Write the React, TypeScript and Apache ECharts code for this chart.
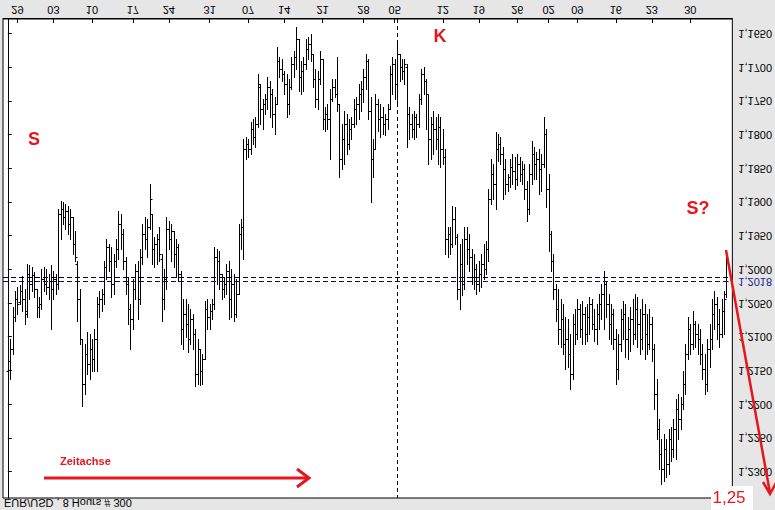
import React, { useEffect, useRef } from "react";
import * as echarts from "echarts";

// EUR/USD 8-hour bars (open / high / low / close)
const opens = [
  1.2152, 1.2137, 1.2119, 1.2071, 1.2045, 1.2049, 1.2033, 1.2045, 1.2063, 1.2008,
  1.2022, 1.2009, 1.2030, 1.2057, 1.2052, 1.2015, 1.2022, 1.2027, 1.2018, 1.2030,
  1.2015, 1.2022, 1.1919, 1.1911, 1.1923, 1.1914, 1.1933, 1.1923, 1.1963, 1.1993,
  1.2045, 1.2104, 1.2171, 1.2126, 1.2141, 1.2119, 1.2134, 1.2104, 1.2052, 1.2045,
  1.2037, 1.1997, 1.1968, 1.1988, 1.2022, 1.1988, 1.1971, 1.1933, 1.1948, 1.1988,
  1.2022, 1.2060, 1.2074, 1.2030, 1.2003, 1.2045, 1.1982, 1.1948, 1.1956, 1.1938,
  1.1919, 1.1971, 1.1963, 1.1956, 1.1985, 1.2045, 1.2015, 1.1941, 1.1956, 1.1944,
  1.1978, 1.1968, 1.2008, 1.2089, 1.2067, 1.2082, 1.2104, 1.2074, 1.2097, 1.2156,
  1.2119, 1.2152, 1.2134, 1.2060, 1.2071, 1.2063, 1.2052, 1.1982, 1.1988, 1.2008,
  1.2030, 1.2022, 1.2003, 1.2045, 1.2022, 1.2067, 1.2037, 1.1948, 1.1938, 1.1822,
  1.1815, 1.1822, 1.1792, 1.1804, 1.1785, 1.1730, 1.1763, 1.1755, 1.1748, 1.1730,
  1.1741, 1.1770, 1.1755, 1.1692, 1.1703, 1.1711, 1.1726, 1.1755, 1.1730, 1.1696,
  1.1686, 1.1659, 1.1715, 1.1706, 1.1696, 1.1674, 1.1666, 1.1681, 1.1718, 1.1748,
  1.1718, 1.1689, 1.1778, 1.1770, 1.1778, 1.1748, 1.1730, 1.1741, 1.1755, 1.1837,
  1.1807, 1.1785, 1.1815, 1.1792, 1.1785, 1.1763, 1.1755, 1.1741, 1.1733, 1.1715,
  1.1692, 1.1766, 1.1837, 1.1822, 1.1755, 1.1778, 1.1775, 1.1785, 1.1778, 1.1763,
  1.1711, 1.1696, 1.1726, 1.1681, 1.1700, 1.1706, 1.1700, 1.1770, 1.1785, 1.1792,
  1.1775, 1.1785, 1.1748, 1.1711, 1.1721, 1.1741, 1.1807, 1.1785, 1.1792, 1.1807,
  1.1790, 1.1822, 1.1834, 1.1956, 1.1948, 1.1963, 1.1926, 1.1953, 1.2030, 1.1993,
  1.2022, 1.1956, 1.1971, 1.1982, 1.2012, 1.2000, 1.2022, 1.2008, 1.1993, 1.2000,
  1.1971, 1.1896, 1.1859, 1.1874, 1.1822, 1.1815, 1.1830, 1.1852, 1.1874, 1.1864,
  1.1849, 1.1855, 1.1867, 1.1844, 1.1859, 1.1852, 1.1882, 1.1911, 1.1859, 1.1830,
  1.1844, 1.1837, 1.1852, 1.1844, 1.1800, 1.1882, 1.1948, 1.1988, 1.2030, 1.2060,
  1.2089, 1.2074, 1.2112, 1.2104, 1.2126, 1.2156, 1.2082, 1.2097, 1.2060, 1.2089,
  1.2067, 1.2097, 1.2071, 1.2052, 1.2082, 1.2089, 1.2067, 1.2052, 1.2037, 1.2022,
  1.2052, 1.2082, 1.2067, 1.2104, 1.2149, 1.2112, 1.2074, 1.2067, 1.2104, 1.2089,
  1.2074, 1.2097, 1.2060, 1.2082, 1.2104, 1.2067, 1.2097, 1.2112, 1.2082, 1.2119,
  1.2186, 1.2238, 1.2275, 1.2297, 1.2267, 1.2290, 1.2253, 1.2267, 1.2238, 1.2208,
  1.2223, 1.2201, 1.2171, 1.2126, 1.2089, 1.2112, 1.2082, 1.2097, 1.2104, 1.2126,
  1.2149, 1.2171, 1.2119, 1.2104, 1.2067, 1.2052, 1.2082, 1.2097, 1.2063, 1.2037,
];

const highs = [
  1.2166, 1.2163, 1.2126, 1.2077, 1.2067, 1.2052, 1.2063, 1.2082, 1.2071, 1.2045,
  1.2033, 1.2042, 1.2071, 1.2071, 1.2060, 1.2033, 1.2037, 1.2045, 1.2089, 1.2045,
  1.2037, 1.2030, 1.1956, 1.1933, 1.1941, 1.1948, 1.1956, 1.1978, 1.1988, 1.2077,
  1.2112, 1.2204, 1.2186, 1.2156, 1.2163, 1.2152, 1.2152, 1.2152, 1.2071, 1.2063,
  1.2052, 1.2015, 1.2003, 1.2042, 1.2037, 1.1997, 1.1985, 1.1971, 1.2000, 1.2037,
  1.2082, 1.2119, 1.2089, 1.2045, 1.2074, 1.2052, 1.1993, 1.1971, 1.1982, 1.1941,
  1.1993, 1.1997, 1.1993, 1.1988, 1.2077, 1.2060, 1.2030, 1.1971, 1.1988, 1.1997,
  1.2012, 1.2018, 1.2112, 1.2119, 1.2101, 1.2123, 1.2112, 1.2119, 1.2174, 1.2171,
  1.2172, 1.2171, 1.2134, 1.2089, 1.2089, 1.2074, 1.2060, 1.2022, 1.2030, 1.2045,
  1.2042, 1.2037, 1.2074, 1.2071, 1.2077, 1.2071, 1.2037, 1.1971, 1.1985, 1.1837,
  1.1834, 1.1830, 1.1815, 1.1819, 1.1790, 1.1785, 1.1792, 1.1770, 1.1763, 1.1775,
  1.1790, 1.1800, 1.1755, 1.1715, 1.1721, 1.1741, 1.1775, 1.1770, 1.1733, 1.1715,
  1.1703, 1.1736, 1.1741, 1.1736, 1.1703, 1.1689, 1.1692, 1.1730, 1.1760, 1.1763,
  1.1726, 1.1792, 1.1795, 1.1792, 1.1837, 1.1751, 1.1745, 1.1766, 1.1864, 1.1852,
  1.1844, 1.1830, 1.1822, 1.1807, 1.1790, 1.1785, 1.1778, 1.1766, 1.1752, 1.1733,
  1.1778, 1.1901, 1.1864, 1.1822, 1.1795, 1.1804, 1.1800, 1.1801, 1.1792, 1.1763,
  1.1741, 1.1748, 1.1755, 1.1721, 1.1718, 1.1726, 1.1819, 1.1807, 1.1804, 1.1807,
  1.1804, 1.1790, 1.1755, 1.1741, 1.1792, 1.1844, 1.1837, 1.1830, 1.1822, 1.1844,
  1.1849, 1.1844, 1.1978, 1.1982, 1.1978, 1.1968, 1.1963, 1.2045, 1.2060, 1.2039,
  1.2030, 1.1993, 1.2003, 1.2022, 1.2030, 1.2037, 1.2033, 1.2027, 1.2015, 1.2008,
  1.1988, 1.1904, 1.1896, 1.1911, 1.1840, 1.1844, 1.1896, 1.1889, 1.1884, 1.1879,
  1.1874, 1.1882, 1.1876, 1.1870, 1.1874, 1.1896, 1.1929, 1.1919, 1.1874, 1.1867,
  1.1867, 1.1889, 1.1884, 1.1849, 1.1908, 1.1974, 1.2003, 1.2045, 1.2077, 1.2112,
  1.2116, 1.2126, 1.2149, 1.2146, 1.2178, 1.2163, 1.2112, 1.2104, 1.2101, 1.2112,
  1.2112, 1.2107, 1.2097, 1.2089, 1.2107, 1.2112, 1.2089, 1.2074, 1.2089, 1.2071,
  1.2104, 1.2112, 1.2119, 1.2171, 1.2163, 1.2122, 1.2104, 1.2131, 1.2134, 1.2122,
  1.2112, 1.2104, 1.2116, 1.2126, 1.2119, 1.2134, 1.2126, 1.2119, 1.2137, 1.2208,
  1.2253, 1.2297, 1.2319, 1.2315, 1.2309, 1.2304, 1.2285, 1.2279, 1.2282, 1.2253,
  1.2238, 1.2208, 1.2186, 1.2134, 1.2126, 1.2119, 1.2116, 1.2126, 1.2141, 1.2163,
  1.2186, 1.2181, 1.2146, 1.2119, 1.2089, 1.2104, 1.2116, 1.2101, 1.2097, 1.2042,
];

const lows = [
  1.2114, 1.2104, 1.2057, 1.2033, 1.2027, 1.2024, 1.2011, 1.2030, 1.1993, 1.1994,
  1.1997, 1.2005, 1.2030, 1.2042, 1.2000, 1.1997, 1.2000, 1.2008, 1.1994, 1.2003,
  1.2008, 1.1911, 1.1899, 1.1901, 1.1904, 1.1907, 1.1911, 1.1923, 1.1944, 1.1988,
  1.2030, 1.2104, 1.2112, 1.2094, 1.2097, 1.2104, 1.2089, 1.2042, 1.2033, 1.2030,
  1.1988, 1.1956, 1.1963, 1.1968, 1.1978, 1.1956, 1.1914, 1.1919, 1.1941, 1.1982,
  1.2012, 1.2052, 1.2015, 1.1993, 1.1988, 1.1971, 1.1933, 1.1923, 1.1926, 1.1874,
  1.1919, 1.1953, 1.1948, 1.1938, 1.1978, 1.2000, 1.1923, 1.1929, 1.1933, 1.1944,
  1.1956, 1.1963, 1.2003, 1.2045, 1.2045, 1.2052, 1.2060, 1.2067, 1.2089, 1.2104,
  1.2119, 1.2126, 1.2048, 1.2045, 1.2052, 1.2045, 1.1968, 1.1971, 1.1974, 1.2008,
  1.2012, 1.1993, 1.1988, 1.2000, 1.2008, 1.2015, 1.1933, 1.1926, 1.1807, 1.1804,
  1.1807, 1.1782, 1.1778, 1.1775, 1.1711, 1.1726, 1.1748, 1.1741, 1.1715, 1.1721,
  1.1733, 1.1745, 1.1671, 1.1686, 1.1689, 1.1706, 1.1711, 1.1718, 1.1686, 1.1677,
  1.1641, 1.1659, 1.1692, 1.1686, 1.1659, 1.1656, 1.1652, 1.1681, 1.1703, 1.1706,
  1.1677, 1.1689, 1.1760, 1.1755, 1.1733, 1.1718, 1.1718, 1.1686, 1.1755, 1.1785,
  1.1766, 1.1770, 1.1778, 1.1775, 1.1748, 1.1745, 1.1726, 1.1721, 1.1703, 1.1681,
  1.1689, 1.1745, 1.1807, 1.1741, 1.1748, 1.1755, 1.1760, 1.1770, 1.1755, 1.1699,
  1.1686, 1.1689, 1.1662, 1.1681, 1.1689, 1.1689, 1.1696, 1.1760, 1.1770, 1.1766,
  1.1770, 1.1741, 1.1703, 1.1700, 1.1718, 1.1741, 1.1775, 1.1766, 1.1775, 1.1770,
  1.1775, 1.1792, 1.1822, 1.1938, 1.1938, 1.1907, 1.1908, 1.1948, 1.1963, 1.1956,
  1.1938, 1.1938, 1.1948, 1.1971, 1.1978, 1.1993, 1.1988, 1.1978, 1.1963, 1.1959,
  1.1882, 1.1837, 1.1844, 1.1797, 1.1800, 1.1804, 1.1819, 1.1837, 1.1859, 1.1837,
  1.1830, 1.1834, 1.1830, 1.1834, 1.1840, 1.1844, 1.1870, 1.1844, 1.1810, 1.1819,
  1.1827, 1.1822, 1.1830, 1.1775, 1.1792, 1.1859, 1.1944, 1.1978, 1.2022, 1.2030,
  1.2045, 1.2052, 1.2071, 1.2074, 1.2097, 1.2067, 1.2060, 1.2045, 1.2052, 1.2048,
  1.2057, 1.2052, 1.2042, 1.2045, 1.2060, 1.2052, 1.2037, 1.2022, 1.2003, 1.2018,
  1.2037, 1.2052, 1.2060, 1.2089, 1.2097, 1.2060, 1.2048, 1.2052, 1.2071, 1.2057,
  1.2045, 1.2037, 1.2042, 1.2060, 1.2045, 1.2052, 1.2067, 1.2060, 1.2071, 1.2112,
  1.2163, 1.2223, 1.2253, 1.2245, 1.2253, 1.2238, 1.2235, 1.2223, 1.2193, 1.2186,
  1.2190, 1.2152, 1.2112, 1.2071, 1.2082, 1.2063, 1.2077, 1.2082, 1.2089, 1.2112,
  1.2126, 1.2104, 1.2082, 1.2045, 1.2033, 1.2042, 1.2060, 1.2045, 1.2033, 1.1982,
];

const closes = [
  1.2137, 1.2119, 1.2071, 1.2045, 1.2052, 1.2033, 1.2045, 1.2067, 1.2008, 1.2022,
  1.2009, 1.2030, 1.2057, 1.2052, 1.2015, 1.2022, 1.2027, 1.2018, 1.2030, 1.2015,
  1.2022, 1.1919, 1.1911, 1.1923, 1.1914, 1.1933, 1.1923, 1.1963, 1.1982, 1.2045,
  1.2104, 1.2171, 1.2126, 1.2141, 1.2119, 1.2134, 1.2104, 1.2052, 1.2045, 1.2037,
  1.1997, 1.1968, 1.1988, 1.2022, 1.1988, 1.1971, 1.1933, 1.1948, 1.1988, 1.2022,
  1.2060, 1.2074, 1.2030, 1.2003, 1.2045, 1.1982, 1.1948, 1.1956, 1.1938, 1.1896,
  1.1971, 1.1963, 1.1956, 1.1978, 1.2045, 1.2015, 1.1941, 1.1956, 1.1944, 1.1978,
  1.1968, 1.2008, 1.2089, 1.2067, 1.2082, 1.2104, 1.2074, 1.2097, 1.2156, 1.2119,
  1.2152, 1.2134, 1.2060, 1.2071, 1.2063, 1.2052, 1.1982, 1.1988, 1.2008, 1.2030,
  1.2022, 1.2003, 1.2045, 1.2022, 1.2067, 1.2037, 1.1948, 1.1938, 1.1822, 1.1815,
  1.1822, 1.1792, 1.1804, 1.1785, 1.1726, 1.1763, 1.1755, 1.1748, 1.1730, 1.1741,
  1.1770, 1.1755, 1.1692, 1.1703, 1.1711, 1.1726, 1.1755, 1.1730, 1.1696, 1.1686,
  1.1659, 1.1715, 1.1706, 1.1696, 1.1674, 1.1666, 1.1681, 1.1718, 1.1748, 1.1718,
  1.1689, 1.1778, 1.1770, 1.1778, 1.1748, 1.1730, 1.1741, 1.1755, 1.1837, 1.1807,
  1.1785, 1.1815, 1.1792, 1.1785, 1.1763, 1.1755, 1.1741, 1.1733, 1.1715, 1.1692,
  1.1766, 1.1837, 1.1822, 1.1755, 1.1778, 1.1775, 1.1785, 1.1778, 1.1763, 1.1711,
  1.1696, 1.1726, 1.1681, 1.1700, 1.1706, 1.1696, 1.1770, 1.1785, 1.1792, 1.1775,
  1.1785, 1.1748, 1.1711, 1.1721, 1.1741, 1.1807, 1.1785, 1.1792, 1.1807, 1.1790,
  1.1822, 1.1834, 1.1956, 1.1948, 1.1963, 1.1926, 1.1953, 1.2030, 1.1993, 1.2022,
  1.1956, 1.1971, 1.1982, 1.2012, 1.2000, 1.2022, 1.2008, 1.1993, 1.2000, 1.1971,
  1.1896, 1.1859, 1.1874, 1.1822, 1.1815, 1.1830, 1.1852, 1.1874, 1.1864, 1.1849,
  1.1855, 1.1867, 1.1844, 1.1859, 1.1852, 1.1882, 1.1911, 1.1859, 1.1830, 1.1844,
  1.1837, 1.1852, 1.1844, 1.1800, 1.1882, 1.1948, 1.1988, 1.2030, 1.2060, 1.2089,
  1.2074, 1.2112, 1.2104, 1.2126, 1.2156, 1.2082, 1.2097, 1.2060, 1.2089, 1.2067,
  1.2097, 1.2071, 1.2052, 1.2082, 1.2089, 1.2067, 1.2052, 1.2037, 1.2022, 1.2052,
  1.2082, 1.2067, 1.2104, 1.2149, 1.2112, 1.2074, 1.2067, 1.2104, 1.2089, 1.2074,
  1.2097, 1.2060, 1.2082, 1.2104, 1.2067, 1.2097, 1.2112, 1.2082, 1.2119, 1.2186,
  1.2238, 1.2275, 1.2297, 1.2267, 1.2290, 1.2253, 1.2267, 1.2238, 1.2208, 1.2223,
  1.2201, 1.2171, 1.2126, 1.2089, 1.2112, 1.2082, 1.2097, 1.2104, 1.2126, 1.2149,
  1.2171, 1.2119, 1.2104, 1.2067, 1.2052, 1.2082, 1.2097, 1.2063, 1.2045, 1.2018,
];

// week-start date labels, positioned at the bar index where each week begins
const weekBars = [4, 19, 35, 52, 67, 84, 100, 115, 131, 148, 161, 181, 196, 212, 225, 237, 253, 268, 284];
const weekLabels = ["29", "03", "10", "17", "24", "31", "07", "14", "21", "28", "05", "12", "19", "26", "02", "09", "16", "23", "30"];

const priceTicks = [1.165, 1.17, 1.175, 1.18, 1.185, 1.19, 1.195, 1.2, 1.205, 1.21, 1.215, 1.22, 1.225, 1.23];
const lastPrice = 1.2018;
const cursorPrice = 1.2012;
const cursorBar = 162;

const chartTitle = "EUR/USD , 8 Hours # 300";
const targetText = "1,25";

const FONT = '"Liberation Sans", Arial, sans-serif';
const RED = "#e5161c";

const fmtPrice = (v: number) => v.toFixed(4).replace(".", ",");

export default function App() {
  const chartRef = useRef<HTMLDivElement>(null);
  const noteRef = useRef<HTMLDivElement>(null);

  useEffect(() => {
    if (!chartRef.current || !noteRef.current) return;
    const chart = echarts.init(chartRef.current, undefined, { renderer: "svg" });
    const notes = echarts.init(noteRef.current, undefined, { renderer: "svg" });

    const data = opens.map((o, i) => [i, o, highs[i], lows[i], closes[i]]);

    chart.setOption({
      animation: false,
      backgroundColor: "#e6e6e6",
      grid: {
        left: 3,
        right: 42,
        top: 12,
        bottom: 19,
        show: true,
        backgroundColor: "#ffffff",
        borderColor: "#000000",
        borderWidth: 1,
      },
      xAxis: {
        type: "value",
        min: -2,
        max: 301.5,
        position: "bottom",
        splitLine: { show: false },
        axisLine: { show: true, lineStyle: { color: "#000", width: 1 } },
        axisTick: { show: true, inside: true, length: 4, customValues: weekBars, lineStyle: { color: "#000" } },
        axisLabel: {
          customValues: weekBars,
          formatter: (v: number) => weekLabels[weekBars.indexOf(Math.round(v))] ?? "",
          margin: 4,
          color: "#000",
          fontSize: 11,
          fontFamily: FONT,
        },
      },
      yAxis: {
        type: "value",
        position: "right",
        min: 1.16277,
        max: 1.23386,
        splitLine: { show: false },
        axisLine: { show: true, lineStyle: { color: "#000", width: 1 } },
        axisTick: { show: true, length: 4, customValues: priceTicks, lineStyle: { color: "#000" } },
        axisLabel: {
          customValues: [...priceTicks, lastPrice],
          formatter: (v: number) =>
            Math.abs(v - lastPrice) < 1e-6 ? `{last|${fmtPrice(v)}}` : fmtPrice(v),
          margin: 6,
          color: "#000",
          fontSize: 11,
          fontFamily: FONT,
          rich: { last: { color: "#1c1c8c", fontSize: 11, fontFamily: FONT } },
        },
      },
      graphic: [
        {
          type: "text",
          x: 4,
          y: 7,
          style: {
            text: chartTitle,
            fill: "#000",
            font: `11px ${FONT}`,
            verticalAlign: "middle",
          },
        },
      ],
      series: [
        {
          type: "custom",
          clip: true,
          data,
          encode: { x: 0, y: [1, 2, 3, 4] },
          renderItem: (_params: any, api: any) => {
            const i = api.value(0);
            const pO = api.coord([i, api.value(1)]);
            const pH = api.coord([i, api.value(2)]);
            const pL = api.coord([i, api.value(3)]);
            const pC = api.coord([i, api.value(4)]);
            const x = Math.round(pO[0]) + 0.5;
            const yO = Math.round(pO[1]) + 0.5;
            const yC = Math.round(pC[1]) + 0.5;
            const st = { stroke: "#000", lineWidth: 1 };
            return {
              type: "group",
              children: [
                { type: "line", shape: { x1: x, y1: Math.round(pH[1]), x2: x, y2: Math.round(pL[1]) + 1 }, style: st },
                { type: "line", shape: { x1: x - 2, y1: yO, x2: x, y2: yO }, style: st },
                { type: "line", shape: { x1: x, y1: yC, x2: x + 2, y2: yC }, style: st },
              ],
            };
          },
          markLine: {
            silent: true,
            precision: 5,
            symbol: ["none", "none"],
            label: { show: false },
            data: [
              { yAxis: lastPrice, lineStyle: { color: "#101050", type: [5, 3], width: 1 } },
              { yAxis: cursorPrice, lineStyle: { color: "#000", type: [5, 3], width: 1 } },
              { xAxis: cursorBar, lineStyle: { color: "#000", type: [4, 3], width: 1 } },
            ],
          },
        },
      ],
    });

    notes.setOption({
      animation: false,
      backgroundColor: "transparent",
      graphic: [
        { type: "text", x: 34, y: 139, style: { text: "S", fill: RED, font: `bold 18px ${FONT}`, align: "center", verticalAlign: "middle" } },
        { type: "text", x: 440, y: 36, style: { text: "K", fill: RED, font: `bold 18px ${FONT}`, align: "center", verticalAlign: "middle" } },
        { type: "text", x: 698, y: 208, style: { text: "S?", fill: RED, font: `bold 18px ${FONT}`, align: "center", verticalAlign: "middle" } },
        { type: "text", x: 60, y: 461, style: { text: "Zeitachse", fill: RED, font: `bold 11px ${FONT}`, align: "left", verticalAlign: "middle" } },
        { type: "line", shape: { x1: 44, y1: 478, x2: 308, y2: 478 }, style: { stroke: RED, lineWidth: 3 } },
        { type: "polyline", shape: { points: [[297, 469], [309, 478], [297, 487]] }, style: { stroke: RED, lineWidth: 3, fill: null } },
        { type: "rect", shape: { x: 711, y: 486, width: 42, height: 24 }, style: { fill: "#ffffff" } },
        { type: "text", x: 729, y: 497, style: { text: targetText, fill: RED, font: `17px ${FONT}`, align: "center", verticalAlign: "middle" } },
        { type: "line", shape: { x1: 726, y1: 250, x2: 770, y2: 493 }, style: { stroke: RED, lineWidth: 2.5 } },
        { type: "polyline", shape: { points: [[763, 482], [770, 494], [777, 481]] }, style: { stroke: RED, lineWidth: 2.5, fill: null } },
      ],
    });

    return () => {
      chart.dispose();
      notes.dispose();
    };
  }, []);

  return (
    <div style={{ position: "fixed", left: 0, top: 0, width: 775, height: 510, overflow: "hidden" }}>
      <div
        ref={chartRef}
        style={{ position: "absolute", left: 0, top: 0, width: 775, height: 510, transform: "scaleY(-1)" }}
      />
      <div
        ref={noteRef}
        style={{ position: "absolute", left: 0, top: 0, width: 775, height: 510, pointerEvents: "none" }}
      />
    </div>
  );
}
